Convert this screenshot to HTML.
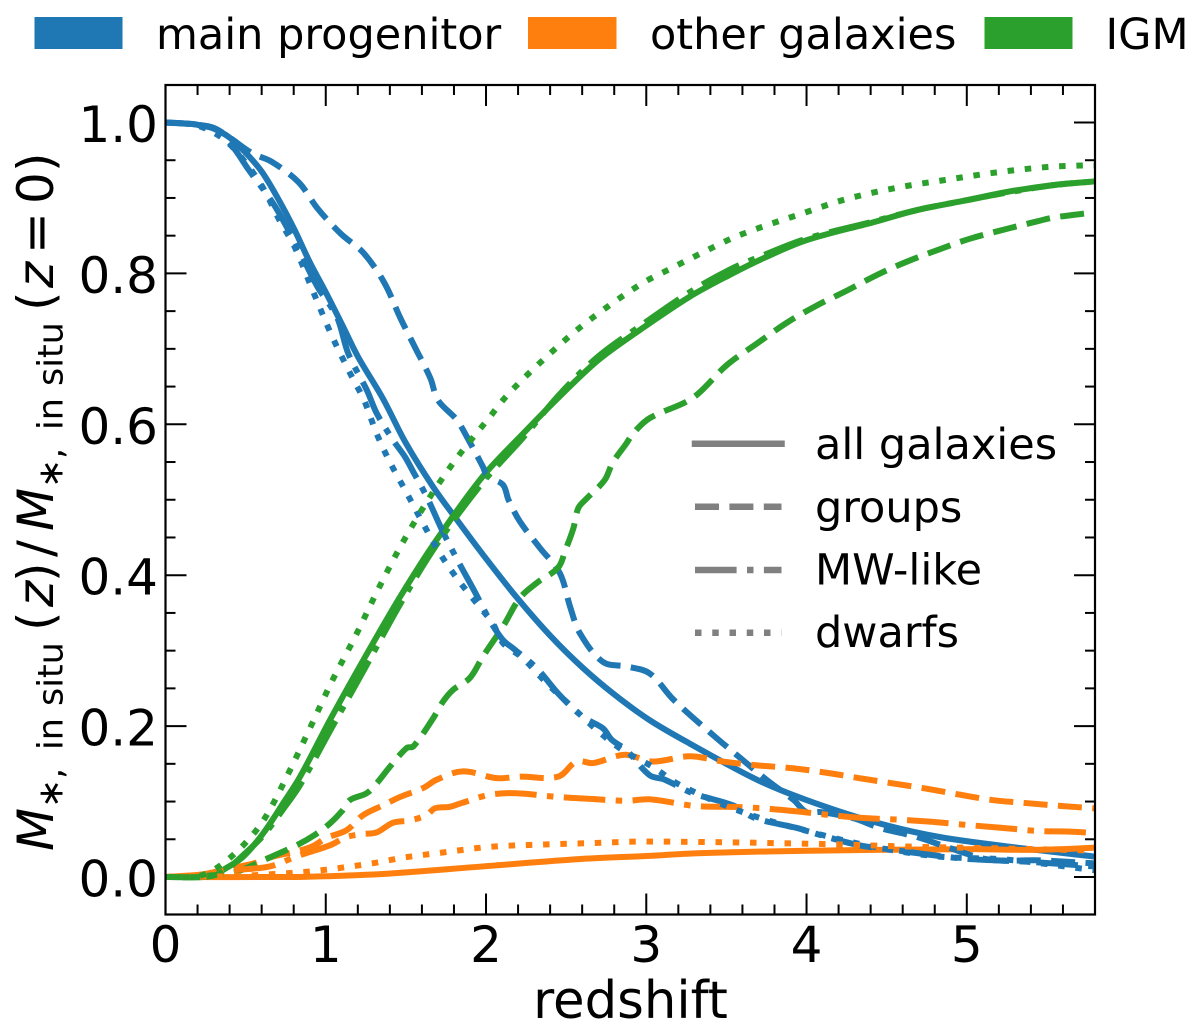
<!DOCTYPE html>
<html lang="en">
<head>
<meta charset="utf-8">
<title>In situ stellar mass fraction vs redshift</title>
<style>
html,body{margin:0;padding:0;background:#fff;width:1200px;height:1030px;overflow:hidden}
svg{display:block}
text{font-family:"DejaVu Sans","Liberation Sans",sans-serif;fill:#000}
.tick{font-size:50px}
.leg{font-size:43px}
.m{font-size:50px}
.s{font-size:35px}
.i{font-style:italic}
</style>
</head>
<body>
<svg id="chart" xmlns="http://www.w3.org/2000/svg" width="1200" height="1030" viewBox="0 0 1200 1030">
  <defs><clipPath id="plot-clip"><rect x="165.5" y="85" width="929.5" height="829.5"/></clipPath></defs>
  <rect x="0" y="0" width="1200" height="1030" fill="#fff"/>

  <g>
    <rect x="34.5" y="17" width="88" height="32" fill="#1f77b4"/>
    <text class="leg" x="156" y="49">main progenitor</text>
    <rect x="528" y="17" width="88.5" height="32" fill="#ff7f0e"/>
    <text class="leg" x="650" y="49">other galaxies</text>
    <rect x="984.5" y="17" width="88" height="32" fill="#2ca02c"/>
    <text class="leg" x="1105.5" y="49">IGM</text>
  </g>

  <g id="tick-layer" stroke="#000" stroke-width="2"></g>
  <g id="series-layer" clip-path="url(#plot-clip)" fill="none"></g>
  <rect x="165.5" y="85" width="929.5" height="829.5" fill="none" stroke="#000" stroke-width="2.2"/>
  <g id="label-layer"></g>

  <g>
    <line x1="695" x2="781.5" y1="443.7" y2="443.7" stroke="#808080" stroke-width="6.5" stroke-linecap="square"/>
    <line x1="695" x2="781.5" y1="506.7" y2="506.7" stroke="#808080" stroke-width="6.5" stroke-dasharray="24 10.4"/>
    <line x1="695" x2="781.5" y1="570" y2="570" stroke="#808080" stroke-width="6.5" stroke-dasharray="41.6 10.4 6.5 10.4"/>
    <line x1="695" x2="781.5" y1="632.7" y2="632.7" stroke="#808080" stroke-width="6.5" stroke-dasharray="6.5 10.75"/>
    <text class="leg" x="815" y="459">all galaxies</text>
    <text class="leg" x="815" y="522">groups</text>
    <text class="leg" x="815" y="584.5">MW-like</text>
    <text class="leg" x="815" y="647">dwarfs</text>
  </g>

  <text x="630.5" y="1018" text-anchor="middle" font-size="51.3">redshift</text>

  <g>
    <text class="m i" transform="translate(53,851) rotate(-90)">M</text>
    <text class="s" transform="translate(62.7,808) rotate(-90)">∗</text>
    <text class="s" transform="translate(62.7,779) rotate(-90)">,</text>
    <text class="s" transform="translate(62.7,750) rotate(-90)">in</text>
    <text class="s" transform="translate(62.7,706) rotate(-90)">situ</text>
    <text class="m" transform="translate(53,631) rotate(-90)">(</text>
    <text class="m i" transform="translate(53,607) rotate(-90)">z</text>
    <text class="m" transform="translate(53,582) rotate(-90)">)</text>
    <text class="m" transform="translate(53,557) rotate(-90)">/</text>
    <text class="m i" transform="translate(53,531) rotate(-90)">M</text>
    <text class="s" transform="translate(62.7,488) rotate(-90)">∗</text>
    <text class="s" transform="translate(62.7,459) rotate(-90)">,</text>
    <text class="s" transform="translate(62.7,430) rotate(-90)">in</text>
    <text class="s" transform="translate(62.7,386) rotate(-90)">situ</text>
    <text class="m" transform="translate(53,311) rotate(-90)">(</text>
    <text class="m i" transform="translate(53,288) rotate(-90)">z</text>
    <text class="m" transform="translate(53,254) rotate(-90)">=</text>
    <text class="m" transform="translate(53,204) rotate(-90)">0</text>
    <text class="m" transform="translate(53,172) rotate(-90)">)</text>
  </g>
</svg>
<script>
const xMajorTicks = [0, 1, 2, 3, 4, 5];
const xMinorTicks = [0.2, 0.4, 0.6, 0.8, 1.2, 1.4, 1.6, 1.8, 2.2, 2.4, 2.6, 2.8, 3.2, 3.4, 3.6, 3.8, 4.2, 4.4, 4.6, 4.8, 5.2, 5.4, 5.6];
const yMajorTicks = [0, 0.2, 0.4, 0.6, 0.8, 1.0];
const yMinorTicks = [0.05, 0.1, 0.15, 0.25, 0.3, 0.35, 0.45, 0.5, 0.55, 0.65, 0.7, 0.75, 0.85, 0.9, 0.95];
const xTickLabels = ["0", "1", "2", "3", "4", "5"];
const yTickLabels = ["0.0", "0.2", "0.4", "0.6", "0.8", "1.0"];

const zMainAll = [0, 0.1, 0.2, 0.3, 0.4, 0.5, 0.6, 0.7, 0.8, 0.9, 1.0, 1.1, 1.2, 1.357, 1.5, 1.67, 1.82, 2.0, 2.19, 2.4, 2.6, 2.8, 3.02, 3.27, 3.69, 4.0, 4.42, 4.83, 5.35, 5.8];
const fMainAll = [1, 0.999, 0.997, 0.992, 0.98, 0.96, 0.935, 0.9, 0.86, 0.815, 0.775, 0.733, 0.69, 0.634, 0.575, 0.517, 0.473, 0.422, 0.371, 0.32, 0.278, 0.242, 0.208, 0.177, 0.129, 0.102, 0.073, 0.053, 0.038, 0.027];
const zMainGroups = [0, 0.2, 0.3, 0.4, 0.543, 0.662, 0.83, 0.949, 1.092, 1.236, 1.367, 1.463, 1.557, 1.653, 1.7, 1.817, 1.879, 1.98, 2.01, 2.105, 2.14, 2.212, 2.337, 2.46, 2.525, 2.586, 2.73, 2.877, 3.02, 3.17, 3.417, 3.58, 3.75, 3.92, 4.0, 4.09, 4.29, 4.46, 4.69, 4.9, 5.14, 5.46, 5.8];
const fMainGroups = [1, 0.997, 0.993, 0.98, 0.959, 0.948, 0.921, 0.886, 0.853, 0.827, 0.787, 0.742, 0.702, 0.661, 0.632, 0.606, 0.584, 0.544, 0.531, 0.52, 0.5, 0.471, 0.436, 0.403, 0.358, 0.323, 0.285, 0.279, 0.27, 0.235, 0.188, 0.159, 0.129, 0.102, 0.086, 0.086, 0.078, 0.065, 0.053, 0.038, 0.023, 0.022, 0.018];
const zMainMw = [0, 0.1, 0.2, 0.3, 0.4, 0.52, 0.686, 0.853, 0.949, 1.07, 1.14, 1.257, 1.317, 1.42, 1.494, 1.546, 1.63, 1.73, 1.817, 1.93, 2.024, 2.106, 2.17, 2.315, 2.46, 2.606, 2.73, 2.784, 2.877, 3.02, 3.115, 3.29, 3.54, 3.68, 3.94, 4.08, 4.33, 4.54, 4.75, 5.0, 5.4, 5.8];
const fMainMw = [1, 0.999, 0.997, 0.988, 0.973, 0.937, 0.888, 0.822, 0.782, 0.742, 0.694, 0.645, 0.615, 0.579, 0.557, 0.537, 0.504, 0.458, 0.422, 0.378, 0.34, 0.314, 0.303, 0.277, 0.241, 0.212, 0.197, 0.182, 0.168, 0.135, 0.129, 0.111, 0.095, 0.078, 0.065, 0.056, 0.042, 0.036, 0.03, 0.024, 0.02, 0.014];
const zMainDwarf = [0, 0.1, 0.2, 0.33, 0.424, 0.59, 0.71, 0.806, 0.925, 1.045, 1.163, 1.239, 1.317, 1.4, 1.505, 1.606, 1.712, 1.825, 1.96, 2.043, 2.106, 2.23, 2.378, 2.534, 2.69, 2.853, 3.04, 3.21, 3.6, 4.02, 4.42, 4.83, 5.25, 5.8];
const fMainDwarf = [1, 0.999, 0.996, 0.983, 0.966, 0.92, 0.871, 0.835, 0.774, 0.714, 0.663, 0.632, 0.588, 0.55, 0.509, 0.469, 0.429, 0.394, 0.358, 0.336, 0.31, 0.29, 0.257, 0.226, 0.195, 0.168, 0.146, 0.122, 0.086, 0.06, 0.04, 0.027, 0.023, 0.009];

const zOtherAll = [0, 0.8, 1.0, 1.357, 1.98, 2.6, 3.02, 3.27, 3.79, 4.42, 5.04, 5.35, 5.6, 5.8];
const fOtherAll = [0, 0, 0.001, 0.004, 0.014, 0.024, 0.028, 0.031, 0.034, 0.036, 0.037, 0.036, 0.037, 0.039];
const zOtherGroups = [0, 0.215, 0.42, 0.55, 0.67, 0.818, 0.92, 1.005, 1.13, 1.233, 1.357, 1.463, 1.608, 1.692, 1.857, 2.066, 2.212, 2.45, 2.565, 2.668, 2.866, 3.04, 3.27, 3.48, 3.69, 3.92, 4.13, 4.33, 4.54, 4.75, 4.96, 5.16, 5.37, 5.6, 5.8];
const fOtherGroups = [0, 0.003, 0.012, 0.018, 0.027, 0.034, 0.041, 0.052, 0.062, 0.082, 0.095, 0.106, 0.118, 0.129, 0.14, 0.131, 0.133, 0.133, 0.153, 0.151, 0.162, 0.153, 0.16, 0.153, 0.148, 0.144, 0.138, 0.131, 0.124, 0.117, 0.109, 0.102, 0.098, 0.094, 0.091];
const zOtherMw = [0, 0.215, 0.42, 0.65, 0.826, 1.026, 1.13, 1.233, 1.317, 1.42, 1.525, 1.63, 1.681, 1.775, 1.847, 2.024, 2.19, 2.45, 2.69, 2.877, 3.02, 3.31, 3.54, 3.73, 3.94, 4.15, 4.37, 4.58, 4.79, 5.0, 5.23, 5.44, 5.66, 5.8];
const fOtherMw = [0, 0.003, 0.009, 0.014, 0.028, 0.042, 0.053, 0.057, 0.059, 0.072, 0.075, 0.082, 0.091, 0.093, 0.098, 0.109, 0.111, 0.106, 0.103, 0.101, 0.103, 0.094, 0.093, 0.091, 0.087, 0.082, 0.078, 0.076, 0.073, 0.069, 0.065, 0.061, 0.06, 0.058];
const zOtherDwarf = [0, 0.4, 0.757, 0.974, 1.286, 1.494, 1.712, 2.024, 2.347, 2.668, 2.99, 4.04, 4.69, 5.2, 5.8];
const fOtherDwarf = [0, 0.001, 0.005, 0.009, 0.018, 0.026, 0.032, 0.04, 0.043, 0.045, 0.047, 0.044, 0.04, 0.038, 0.035];

const zIgmAll = [0, 0.278, 0.38, 0.485, 0.61, 0.735, 0.84, 1.026, 1.236, 1.463, 1.692, 1.98, 2.233, 2.46, 2.7, 2.96, 3.27, 3.52, 3.73, 4.0, 4.42, 4.69, 5.0, 5.25, 5.54, 5.8];
const fIgmAll = [0, 0.001, 0.012, 0.027, 0.058, 0.098, 0.133, 0.208, 0.288, 0.371, 0.447, 0.531, 0.588, 0.637, 0.685, 0.725, 0.769, 0.798, 0.82, 0.844, 0.868, 0.884, 0.897, 0.908, 0.917, 0.922];
const zIgmGroups = [0, 0.278, 0.444, 0.63, 0.818, 0.933, 1.026, 1.1, 1.151, 1.255, 1.317, 1.4, 1.505, 1.546, 1.669, 1.73, 1.794, 1.9, 1.98, 2.106, 2.212, 2.318, 2.45, 2.495, 2.545, 2.576, 2.63, 2.74, 2.79, 2.877, 2.918, 3.02, 3.29, 3.5, 3.69, 3.88, 4.06, 4.25, 4.44, 4.62, 4.83, 5.02, 5.25, 5.44, 5.54, 5.8];
const fIgmGroups = [0, 0.002, 0.007, 0.024, 0.042, 0.056, 0.071, 0.087, 0.102, 0.111, 0.124, 0.146, 0.171, 0.173, 0.21, 0.232, 0.248, 0.264, 0.292, 0.332, 0.37, 0.39, 0.41, 0.433, 0.462, 0.489, 0.502, 0.526, 0.549, 0.575, 0.588, 0.608, 0.635, 0.678, 0.707, 0.735, 0.757, 0.777, 0.798, 0.815, 0.832, 0.846, 0.859, 0.869, 0.874, 0.881];
const zIgmMw = [0, 0.28, 0.38, 0.49, 0.61, 0.735, 0.84, 1.03, 1.24, 1.46, 1.69, 1.98, 2.23, 2.46, 2.7, 2.96, 3.27, 3.52, 3.73, 4.0, 4.42, 4.69, 5.0, 5.25, 5.54, 5.8];
const fIgmMw = [0, 0.001, 0.01, 0.03, 0.055, 0.09, 0.122, 0.195, 0.275, 0.36, 0.44, 0.523, 0.582, 0.64, 0.69, 0.73, 0.775, 0.805, 0.824, 0.846, 0.869, 0.884, 0.897, 0.907, 0.917, 0.922];
const zIgmDwarf = [0, 0.2, 0.32, 0.485, 0.62, 0.766, 0.903, 1.04, 1.187, 1.324, 1.474, 1.639, 1.817, 2.017, 2.143, 2.38, 2.62, 2.96, 3.158, 3.345, 3.54, 3.74, 3.94, 4.24, 4.55, 4.87, 5.19, 5.5, 5.72, 5.8];
const fIgmDwarf = [0, 0.001, 0.012, 0.042, 0.078, 0.137, 0.198, 0.26, 0.32, 0.38, 0.441, 0.5, 0.555, 0.608, 0.641, 0.69, 0.734, 0.785, 0.807, 0.827, 0.847, 0.863, 0.877, 0.898, 0.913, 0.924, 0.934, 0.941, 0.943, 0.943];

const BLUE = "#1f77b4", ORANGE = "#ff7f0e", GREEN = "#2ca02c";
const DASHED = "24 10.4", DASHDOT = "41.6 10.4 6.5 10.4", DOTTED = "6.5 10.75";
const SVGNS = "http://www.w3.org/2000/svg";

function xScale(z) { return 165.5 + z * (1095 - 165.5) / 5.8; }
function yScale(f) { return 877 - f * 754.5; }

function smoothPath(xs, ys) {
  const p = xs.map((z, i) => [xScale(z), yScale(ys[i])]);
  const tangent = i => {
    const a = p[Math.max(i - 1, 0)], b = p[Math.min(i + 1, p.length - 1)];
    const dx = b[0] - a[0], dy = b[1] - a[1], len = Math.hypot(dx, dy) || 1;
    return [dx / len, dy / len];
  };
  let d = "M" + p[0][0].toFixed(2) + " " + p[0][1].toFixed(2);
  for (let i = 0; i < p.length - 1; i++) {
    const s = Math.hypot(p[i + 1][0] - p[i][0], p[i + 1][1] - p[i][1]) / 3;
    const t0 = tangent(i), t1 = tangent(i + 1);
    d += "C" + (p[i][0] + t0[0] * s).toFixed(2) + " " + (p[i][1] + t0[1] * s).toFixed(2) + " " +
         (p[i + 1][0] - t1[0] * s).toFixed(2) + " " + (p[i + 1][1] - t1[1] * s).toFixed(2) + " " +
         p[i + 1][0].toFixed(2) + " " + p[i + 1][1].toFixed(2);
  }
  return d;
}

function addSeries(name, xs, ys, color, dash) {
  const line = document.createElementNS(SVGNS, "path");
  
  
  line.setAttribute("d", smoothPath(xs, ys));
  line.setAttribute("stroke", color);
  line.setAttribute("stroke-width", "6");
  line.setAttribute("stroke-linejoin", "round");
  if (dash) line.setAttribute("stroke-dasharray", dash);
  document.getElementById("series-layer").appendChild(line);
}

addSeries("main-progenitor-all-galaxies", zMainAll, fMainAll, BLUE, null);
addSeries("other-galaxies-all-galaxies", zOtherAll, fOtherAll, ORANGE, null);
addSeries("igm-all-galaxies", zIgmAll, fIgmAll, GREEN, null);
addSeries("main-progenitor-groups", zMainGroups, fMainGroups, BLUE, DASHED);
addSeries("other-galaxies-groups", zOtherGroups, fOtherGroups, ORANGE, DASHED);
addSeries("igm-groups", zIgmGroups, fIgmGroups, GREEN, DASHED);
addSeries("main-progenitor-mw-like", zMainMw, fMainMw, BLUE, DASHDOT);
addSeries("other-galaxies-mw-like", zOtherMw, fOtherMw, ORANGE, DASHDOT);
addSeries("igm-mw-like", zIgmMw, fIgmMw, GREEN, DASHDOT);
addSeries("main-progenitor-dwarfs", zMainDwarf, fMainDwarf, BLUE, DOTTED);
addSeries("other-galaxies-dwarfs", zOtherDwarf, fOtherDwarf, ORANGE, DOTTED);
addSeries("igm-dwarfs", zIgmDwarf, fIgmDwarf, GREEN, DOTTED);

function addTick(name, x1, y1, x2, y2) {
  const t = document.createElementNS(SVGNS, "line");
  
  
  t.setAttribute("x1", x1);
  t.setAttribute("y1", y1);
  t.setAttribute("x2", x2);
  t.setAttribute("y2", y2);
  document.getElementById("tick-layer").appendChild(t);
}

function addLabel(name, str, x, y, anchor) {
  const t = document.createElementNS(SVGNS, "text");
  
  
  t.setAttribute("class", "tick");
  t.setAttribute("x", x);
  t.setAttribute("y", y);
  t.setAttribute("text-anchor", anchor);
  t.textContent = str;
  document.getElementById("label-layer").appendChild(t);
}

const BOTTOM = 914.5, TOP = 85, LEFT = 165.5, RIGHT = 1095, MAJOR = 21, MINOR = 10;
xMajorTicks.forEach((v, i) => {
  const x = xScale(v);
  addTick("x-major-tick", x, BOTTOM, x, BOTTOM - MAJOR);
  addTick("x-major-tick-top", x, TOP, x, TOP + MAJOR);
  addLabel("x-tick-label", xTickLabels[i], x, 962, "middle");
});
xMinorTicks.forEach(v => {
  const x = xScale(v);
  addTick("x-minor-tick", x, BOTTOM, x, BOTTOM - MINOR);
  addTick("x-minor-tick-top", x, TOP, x, TOP + MINOR);
});
yMajorTicks.forEach((v, i) => {
  const y = yScale(v);
  addTick("y-major-tick", LEFT, y, LEFT + MAJOR, y);
  addTick("y-major-tick-right", RIGHT, y, RIGHT - MAJOR, y);
  addLabel("y-tick-label", yTickLabels[i], 158, y + 19.5, "end");
});
yMinorTicks.forEach(v => {
  const y = yScale(v);
  addTick("y-minor-tick", LEFT, y, LEFT + MINOR, y);
  addTick("y-minor-tick-right", RIGHT, y, RIGHT - MINOR, y);
});
</script>
</body>
</html>
